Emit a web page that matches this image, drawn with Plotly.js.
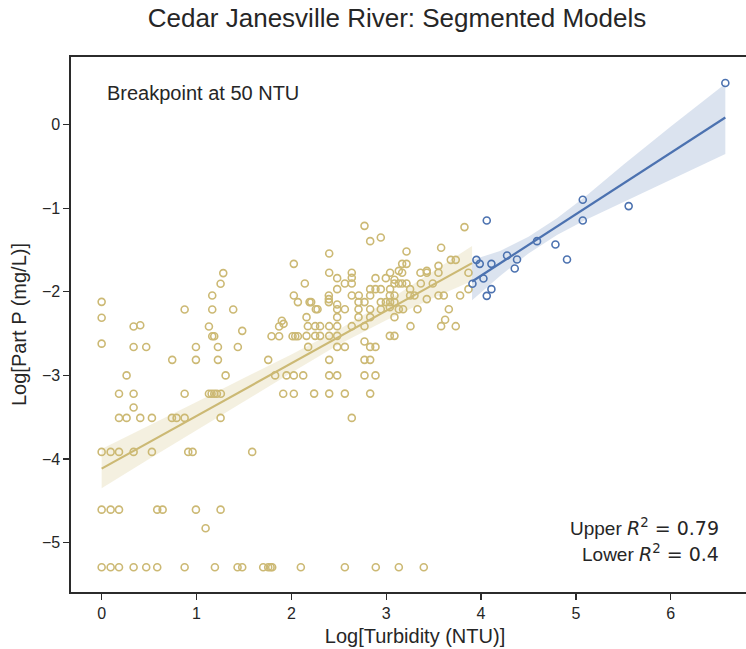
<!DOCTYPE html>
<html>
<head>
<meta charset="utf-8">
<script src="https://cdn.plot.ly/plotly-3.0.1.min.js"></script>
<style>
html,body{margin:0;padding:0;overflow:hidden;background:#fff;}
#chart{width:780px;height:649px;}
</style>
</head>
<body>
<div id="chart"></div>
<script>
// Lower segment (turbidity below breakpoint) observations
const lowerX = [
0,0,0,0,0,0,
0.095,0.095,0.095,
0.183,0.183,0.183,0.183,0.183,
0.263,0.263,
0.337,0.337,0.337,0.337,0.337,0.337,
0.407,0.407,
0.47,0.47,
0.53,0.53,
0.586,0.586,
0.643,
0.741,0.744,0.79,
0.875,0.875,0.875,0.875,
0.913,0.959,
0.994,0.994,0.994,
1.096,
1.131,1.131,
1.159,
1.166,1.166,1.166,
1.187,1.187,
1.194,1.215,
1.226,1.226,
1.254,1.254,1.254,
1.257,1.282,1.307,1.387,1.433,1.436,
1.482,1.482,
1.587,1.703,
1.756,1.756,
1.781,1.791,1.798,1.829,
1.871,1.871,
1.9,1.914,1.918,1.949,2.013,
2.026,2.026,2.026,2.026,
2.041,
2.069,2.069,
2.1,2.125,2.142,
2.16,2.16,
2.174,2.177,2.192,2.209,2.24,
2.251,2.251,
2.258,2.276,
2.303,2.303,
2.395,2.395,2.395,
2.399,2.399,2.399,2.399,2.399,2.399,2.399,
2.483,2.483,2.483,2.483,2.483,2.483,2.483,2.483,2.483,
2.564,2.564,2.564,2.564,2.564,
2.637,2.637,2.637,2.637,2.637,2.637,
2.708,2.708,2.708,
2.711,
2.771,2.771,2.771,2.771,2.771,2.771,
2.831,2.831,2.831,2.831,2.831,2.831,2.831,2.831,
2.887,2.887,2.887,2.887,
2.89,
2.943,2.943,2.943,2.943,
2.996,2.996,
3.038,3.038,3.038,
3.041,3.041,3.041,
3.087,3.087,3.087,3.087,3.087,3.087,
3.133,3.133,3.133,3.133,
3.168,3.168,3.168,
3.178,
3.214,3.214,3.214,
3.252,3.252,
3.256,3.298,3.33,3.361,3.365,3.396,
3.428,3.428,3.428,
3.491,
3.551,3.551,3.551,
3.579,3.579,
3.607,3.621,3.66,3.681,
3.733,3.733,
3.779,3.825,
3.867,3.867
];
const lowerY = [
-2.12,-2.31,-2.62,-3.916,-4.607,-5.297,
-3.916,-4.607,-5.297,
-3.22,-3.509,-3.916,-4.607,-5.297,
-3.0,-3.509,
-2.415,-2.66,-3.22,-3.385,-3.916,-5.297,
-2.40,-3.509,
-2.66,-5.297,
-3.509,-3.916,
-4.607,-5.297,
-4.607,
-3.509,-2.814,-3.509,
-2.212,-3.22,-3.509,-5.297,
-3.916,-3.916,
-2.66,-2.814,-4.607,
-4.83,
-2.415,-3.22,
-3.22,
-2.044,-2.212,-2.531,
-2.531,-3.22,
-5.297,-3.22,
-2.66,-2.814,
-1.904,-3.509,-4.607,
-3.22,-1.776,-3.0,-2.212,-5.297,-2.66,
-2.467,-5.297,
-3.916,-5.297,
-2.814,-5.297,
-5.297,-2.531,-5.297,-3.0,
-2.415,-2.531,
-2.347,-3.22,-2.383,-3.0,-2.531,
-1.665,-2.044,-3.0,-3.22,
-2.531,
-2.123,-2.531,
-5.297,-3.0,-1.9,
-2.303,-2.527,
-2.411,-2.659,-2.123,-2.123,-3.218,
-2.411,-2.527,
-2.208,-2.208,
-2.411,-2.527,
-2.044,-2.087,-2.123,
-1.541,-1.772,-2.411,-2.527,-2.814,-3.0,-3.218,
-1.836,-1.968,-2.152,-2.208,-2.303,-2.411,-2.527,-2.659,-3.0,
-1.9,-2.208,-2.659,-3.218,-5.297,
-1.772,-1.832,-1.9,-2.044,-2.411,-3.509,
-2.208,-2.303,-2.123,
-2.044,
-1.21,-2.123,-2.411,-2.595,-2.814,-3.0,
-1.393,-1.968,-2.044,-2.208,-2.303,-2.659,-2.814,-3.218,
-1.836,-1.968,-2.659,-3.0,
-5.297,
-1.349,-1.968,-2.123,-2.208,
-1.836,-2.123,
-2.044,-2.184,-2.527,
-1.772,-1.968,-2.123,
-1.856,-1.9,-2.044,-2.123,-2.303,-2.527,
-1.749,-1.9,-2.208,-5.297,
-1.665,-1.772,-1.9,
-2.208,
-1.517,-1.665,-1.9,
-1.968,-2.044,
-2.411,-2.044,-2.208,-1.772,-1.9,-5.297,
-1.749,-1.772,-2.087,
-1.9,
-1.689,-1.772,-2.044,
-1.473,-2.411,
-2.044,-2.335,-2.208,-1.617,
-1.617,-2.411,
-2.044,-1.225,
-1.772,-1.968
];

// Upper segment (turbidity above breakpoint) observations
const upperX = [6.575,5.072,5.072,5.556,4.06,4.59,4.784,4.906,4.274,4.379,4.355,3.951,3.986,4.109,4.025,3.909,4.109,4.06];
const upperY = [0.499,-0.898,-1.146,-0.974,-1.146,-1.393,-1.433,-1.613,-1.565,-1.613,-1.721,-1.617,-1.665,-1.665,-1.84,-1.904,-1.968,-2.048];

// Fitted lines
const lowerFitX = [0, 3.905];
const lowerFitY = [-4.116, -1.656];
const upperFitX = [3.905, 6.575];
const upperFitY = [-1.876, 0.087];

// Confidence bands
const lowerBandX  = [0, 0.5, 1.0, 1.5, 2.0, 2.5, 3.0, 3.5, 3.905];
const lowerBandLo = [-4.35, -4.00, -3.66, -3.31, -2.97, -2.63, -2.34, -2.07, -1.87];
const lowerBandHi = [-3.88, -3.60, -3.32, -3.03, -2.75, -2.45, -2.12, -1.75, -1.45];
const upperBandX  = [3.905, 4.2, 4.5, 4.8, 5.1, 5.5, 6.0, 6.575];
const upperBandLo = [-2.10, -1.81, -1.54, -1.32, -1.14, -0.93, -0.66, -0.35];
const upperBandHi = [-1.62, -1.51, -1.34, -1.12, -0.86, -0.48, -0.02, 0.49];

const xTicks = [0,1,2,3,4,5,6];
const yTicks = [0,-1,-2,-3,-4,-5];
const yTickText = ['0','\u22121','\u22122','\u22123','\u22124','\u22125'];

const tan = '#ccb974';
const blue = '#4c72b0';

function band(xs, lo, hi, color) {
  return {
    x: xs.concat(xs.slice().reverse()),
    y: hi.concat(lo.slice().reverse()),
    type: 'scatter', mode: 'lines', fill: 'toself',
    fillcolor: color, line: {width: 0, color: 'rgba(0,0,0,0)'},
    hoverinfo: 'skip', showlegend: false
  };
}

const traces = [
  {x: lowerX, y: lowerY, type: 'scatter', mode: 'markers',
   marker: {symbol: 'circle-open', size: 7, color: tan, line: {width: 1.6, color: tan}}, showlegend: false},
  band(lowerBandX, lowerBandLo, lowerBandHi, 'rgba(204,185,116,0.22)'),
  {x: lowerFitX, y: lowerFitY, type: 'scatter', mode: 'lines', line: {color: tan, width: 2.2}, showlegend: false},
  {x: upperX, y: upperY, type: 'scatter', mode: 'markers',
   marker: {symbol: 'circle-open', size: 7, color: blue, line: {width: 1.6, color: blue}}, showlegend: false},
  band(upperBandX, upperBandLo, upperBandHi, 'rgba(76,114,176,0.2)'),
  {x: upperFitX, y: upperFitY, type: 'scatter', mode: 'lines', line: {color: blue, width: 2.2}, showlegend: false}
];

const font = 'Liberation Sans, Arial, sans-serif';
const mathSpan = s => '<span style="font-family:DejaVu Sans">' + s + '</span>';
const layout = {
  width: 780, height: 649,
  margin: {l: 71, r: 21, t: 57, b: 57},
  paper_bgcolor: '#fff', plot_bgcolor: '#fff',
  font: {family: font, color: '#262626'},
  title: {text: 'Cedar Janesville River: Segmented Models', font: {size: 26, color: '#262626', family: font},
          x: 397/780, xanchor: 'center', xref: 'container', y: 1 - 18/649, yanchor: 'middle', yref: 'container'},
  xaxis: {range: [-0.323, 6.93], tickvals: xTicks, ticktext: xTicks.map(String),
          showgrid: false, zeroline: false, showline: true, mirror: true, linecolor: '#2b2b2b', linewidth: 1.6,
          ticks: 'outside', ticklen: 6, tickwidth: 1.3, tickcolor: '#2b2b2b',
          tickfont: {size: 16, color: '#262626'},
          title: {text: 'Log[Turbidity (NTU)]', font: {size: 20, color: '#262626'}, standoff: 8}},
  yaxis: {range: [-5.593, 0.811], tickvals: yTicks, ticktext: yTickText,
          showgrid: false, zeroline: false, showline: true, mirror: true, linecolor: '#2b2b2b', linewidth: 1.6,
          ticks: 'outside', ticklen: 6, tickwidth: 1.3, tickcolor: '#2b2b2b',
          tickfont: {size: 16, color: '#262626'},
          title: {text: 'Log[Part P (mg/L)]', font: {size: 20, color: '#262626'}, standoff: 10}},
  annotations: [
    {text: 'Breakpoint at 50 NTU', xref: 'paper', yref: 'paper', x: (105-71)/688, y: (592-93)/535,
     xanchor: 'left', yanchor: 'middle', showarrow: false, font: {size: 20, color: '#262626'}},
    {text: 'Upper ' + mathSpan('<i>R</i><sup>2</sup> = 0.79'), xref: 'paper', yref: 'paper', x: (721-71)/688, y: (592-527)/535,
     xanchor: 'right', yanchor: 'middle', showarrow: false, font: {size: 19, color: '#262626'}},
    {text: 'Lower ' + mathSpan('<i>R</i><sup>2</sup> = 0.4'), xref: 'paper', yref: 'paper', x: (721-71)/688, y: (592-553)/535,
     xanchor: 'right', yanchor: 'middle', showarrow: false, font: {size: 19, color: '#262626'}}
  ]
};

Plotly.newPlot('chart', traces, layout, {displayModeBar: false, staticPlot: true});
</script>
</body>
</html>
